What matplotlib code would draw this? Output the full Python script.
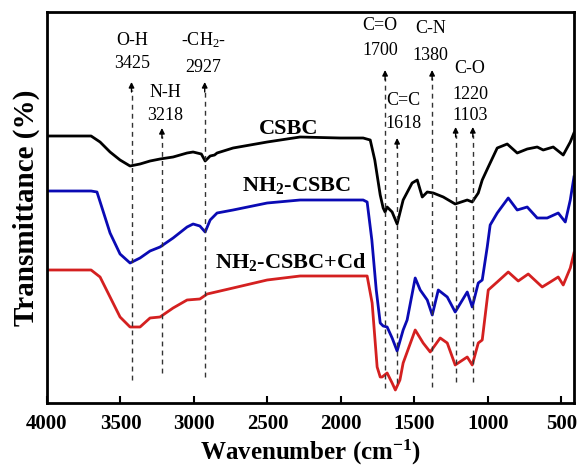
# FTIR spectra of CSBC, NH2-CSBC and NH2-CSBC+Cd
import matplotlib.pyplot as plt

plt.rcParams["font.family"] = "Liberation Serif"
plt.rcParams["mathtext.fontset"] = "custom"
plt.rcParams["mathtext.rm"] = "Liberation Serif"
plt.rcParams["mathtext.it"] = "Liberation Serif:italic"
plt.rcParams["mathtext.bf"] = "Liberation Serif:bold"

# Spectra (wavenumber, relative transmittance, arbitrary units)
csbc_wn = [4000, 3700, 3639, 3571, 3503, 3435, 3367, 3299, 3231, 3142, 3047, 3006,
           2950, 2924, 2890, 2860, 2843, 2734, 2502, 2278, 2006, 1849, 1801, 1770,
           1733, 1713, 1700, 1686, 1652, 1618, 1577, 1516, 1481, 1461, 1447, 1413,
           1372, 1304, 1223, 1141, 1107, 1066, 1039, 998, 937, 869, 801, 733, 665,
           624, 556, 488, 440, 415]
csbc_t = [267, 267, 261, 251, 243, 237, 239, 242, 244, 246, 250, 251,
          249, 242, 247, 248, 250, 255, 261, 266, 265, 265, 263, 243,
          208, 195, 191, 196, 191, 179, 203, 220, 223, 213, 206, 211,
          210, 206, 199, 203, 201, 210, 223, 236, 255, 259, 250, 254, 256,
          253, 256, 248, 261, 270]

nh2_wn = [4000, 3700, 3660, 3571, 3503, 3435, 3367, 3299, 3231, 3142, 3047, 3006,
          2960, 2924, 2890, 2843, 2734, 2502, 2278, 2006, 1849, 1822, 1790, 1760,
          1733, 1713, 1686, 1652, 1618, 1577, 1550, 1495, 1461, 1413, 1379, 1338,
          1277, 1223, 1141, 1107, 1066, 1039, 1005, 985, 937, 862, 801, 733, 665,
          597, 522, 474, 440, 415]
nh2_t = [212, 212, 211, 170, 149, 140, 145, 152, 156, 165, 176, 179,
         177, 171, 183, 190, 193, 200, 203, 203, 203, 201, 163, 113,
         80, 77, 76, 65, 52, 73, 83, 125, 113, 103, 88, 113,
         106, 91, 111, 96, 120, 123, 156, 178, 190, 205, 193, 196, 185,
         185, 190, 181, 203, 226]

cd_wn = [4000, 3700, 3639, 3571, 3503, 3435, 3367, 3299, 3231, 3142, 3047, 2960,
         2940, 2910, 2734, 2502, 2278, 2006, 1822, 1788, 1754, 1733, 1720, 1686,
         1652, 1630, 1599, 1577, 1495, 1441, 1393, 1325, 1277, 1223, 1141, 1107,
         1066, 1039, 998, 937, 862, 794, 726, 631, 576, 522, 488, 440, 415]
cd_t = [133, 133, 126, 106, 86, 76, 76, 85, 86, 95, 103, 104,
        106, 109, 115, 123, 127, 127, 127, 100, 36, 26, 26, 30,
        20, 13, 23, 40, 73, 60, 51, 65, 60, 38, 46, 38,
        60, 63, 113, 121, 131, 122, 129, 116, 121, 126, 118, 135, 150]

# Peak assignments
peak_wn = [3425, 3218, 2927, 1700, 1618, 1380, 1220, 1103]

labels_top = ["O-H", "N-H", "-CH$_2$-", "C=O", "C=C", "C-N", "C-O"]
labels_num = ["3425", "3218", "2927", "1700", "1618", "1380", "1220\n1103"]

fig = plt.figure(figsize=(5.78, 4.71), dpi=100)
ax = fig.add_axes([0.0813, 0.1444, 0.9117, 0.8301])

ax.plot(csbc_wn, csbc_t, color="black", lw=2)
ax.plot(nh2_wn, nh2_t, color="#0a0ab4", lw=2)
ax.plot(cd_wn, cd_t, color="#d42020", lw=2)

# dashed guide lines with arrow heads
arrow_tip = [321, 275, 321, 333, 265, 333, 276, 276]
line_bottom = [23, 30, 26, 15, 20, 16, 21, 21]
for wn, tip, bot in zip(peak_wn, arrow_tip, line_bottom):
    ax.plot([wn, wn], [bot, tip - 8], ls=(0, (3.5, 3)), color="#333333", lw=1)
    ax.annotate("", xy=(wn, tip), xytext=(wn, tip - 10),
                arrowprops=dict(arrowstyle="-|>", color="black", lw=1,
                                mutation_scale=8, shrinkA=0, shrinkB=0))

# label positions (x in wavenumber, y for name / number)
lab_x = [3421, 3197, 2938, 1733, 1577, 1393, 1121]
lab_y_name = [363, 311, 363, 378, 303, 375, 335]
lab_y_num = [340, 288, 336, 353, 280, 348, 298]
for x, yn, yv, nm, num in zip(lab_x, lab_y_name, lab_y_num, labels_top, labels_num):
    ax.text(x, yn, nm, ha="center", va="center", fontsize=13)
    ax.text(x, yv, num, ha="center", va="center", fontsize=13, linespacing=1.25)

ax.text(2353, 274, "CSBC", ha="center", va="center", fontsize=16, fontweight="bold")
ax.text(2305, 218, r"NH$_\mathbf{2}$-CSBC", ha="center", va="center",
        fontsize=16, fontweight="bold")
ax.text(2339, 141, r"NH$_\mathbf{2}$-CSBC+Cd", ha="center", va="center",
        fontsize=16, fontweight="bold")

ax.set_xlim(4000, 415)
ax.set_ylim(0, 391)
ax.set_xticks([4000, 3500, 3000, 2500, 2000, 1500, 1000, 500])
ax.set_yticks([])
ax.tick_params(axis="x", direction="in", length=5, width=1.5, labelsize=15, pad=8)
for lbl in ax.get_xticklabels():
    lbl.set_fontweight("bold")
for sp in ax.spines.values():
    sp.set_linewidth(2)

ax.set_xlabel(r"Wavenumber (cm$^{\mathbf{-1}}$)", fontsize=18, fontweight="bold", labelpad=3)
ax.set_ylabel("Transmittance (%)", fontsize=21, fontweight="bold", labelpad=5)

fig.savefig("out.png", dpi=100)
